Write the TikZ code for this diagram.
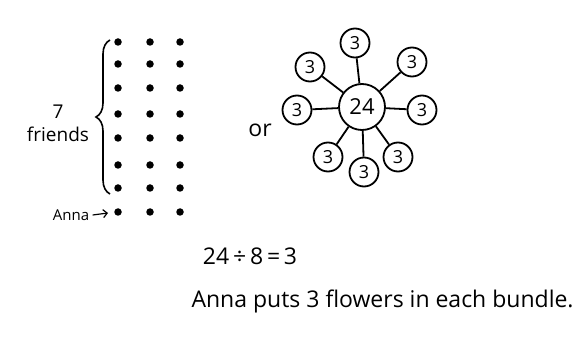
\documentclass[tikz,border=0pt]{standalone}
\usepackage{fontspec}
\setmainfont{Open Sans}
\usetikzlibrary{arrows.meta,decorations.pathreplacing,positioning}

\begin{document}
\begin{tikzpicture}[x=1pt,y=-1pt,
    dot/.style={circle,fill=black,inner sep=0pt,minimum size=7.5pt},
    hub/.style={circle,draw,line width=1.8pt,minimum size=46pt,inner sep=0pt,font=\fontsize{22}{24}\selectfont},
    petal/.style={circle,draw,line width=1.8pt,minimum size=29pt,inner sep=0pt,font=\fontsize{18}{20}\selectfont},
    stem/.style={draw,line width=1.8pt},
    hand/.style={font=\fontsize{23}{27}\selectfont}
  ]
    \useasboundingbox (0,0) rectangle (581,339);

    % Dots: 8 rows of 3
    \foreach \r/\y in {1/42,2/64,3/88,4/114,5/138,6/165,7/188,8/212} {
      \node[dot] (d\r-1) at (118,\y) {};
      \node[dot] (d\r-2) at (150,\y) {};
      \node[dot] (d\r-3) at (180,\y) {};
    }

    % Brace and labels
    \coordinate (br-top) at (110,40);
    \coordinate (br-bot) at (110,194);
    \draw[line width=1.6pt,decorate,decoration={brace,amplitude=14pt,aspect=0.5}] (br-bot) -- (br-top);
    \node[font=\fontsize{19}{21}\selectfont] (seven) at (58,112) {7};
    \node[font=\fontsize{19}{21}\selectfont] (friends) at (58,134) {friends};
    \node[font=\fontsize{15}{17}\selectfont] (anna) at (71,215) {Anna};
    \coordinate (anna-tip) at (108,213);
    \draw[line width=1.2pt,-{Straight Barb[length=4pt]}] (anna.east) -- (anna-tip);

    \node[hand] (or) at (260,130) {or};

    % Flower
    \node[hub] (c) at (362,107) {24};
    \node[petal] (p1) at (355,43) {3};
    \node[petal] (p2) at (412,62) {3};
    \node[petal] (p3) at (422,110) {3};
    \node[petal] (p4) at (398,157) {3};
    \node[petal] (p5) at (364,172) {3};
    \node[petal] (p6) at (328,157) {3};
    \node[petal] (p7) at (297,110) {3};
    \node[petal] (p8) at (310,67) {3};
    \foreach \i in {1,...,8} {
      \draw[stem] (c) -- (p\i);
    }

    % Sentence
    \node[hand] (eq) at (250,256) {24\,÷\,8\,=\,3};
    \node[hand,anchor=west] (line) at (188,301) {Anna puts 3 flowers in each bundle.};

  \end{tikzpicture}
\end{document}
